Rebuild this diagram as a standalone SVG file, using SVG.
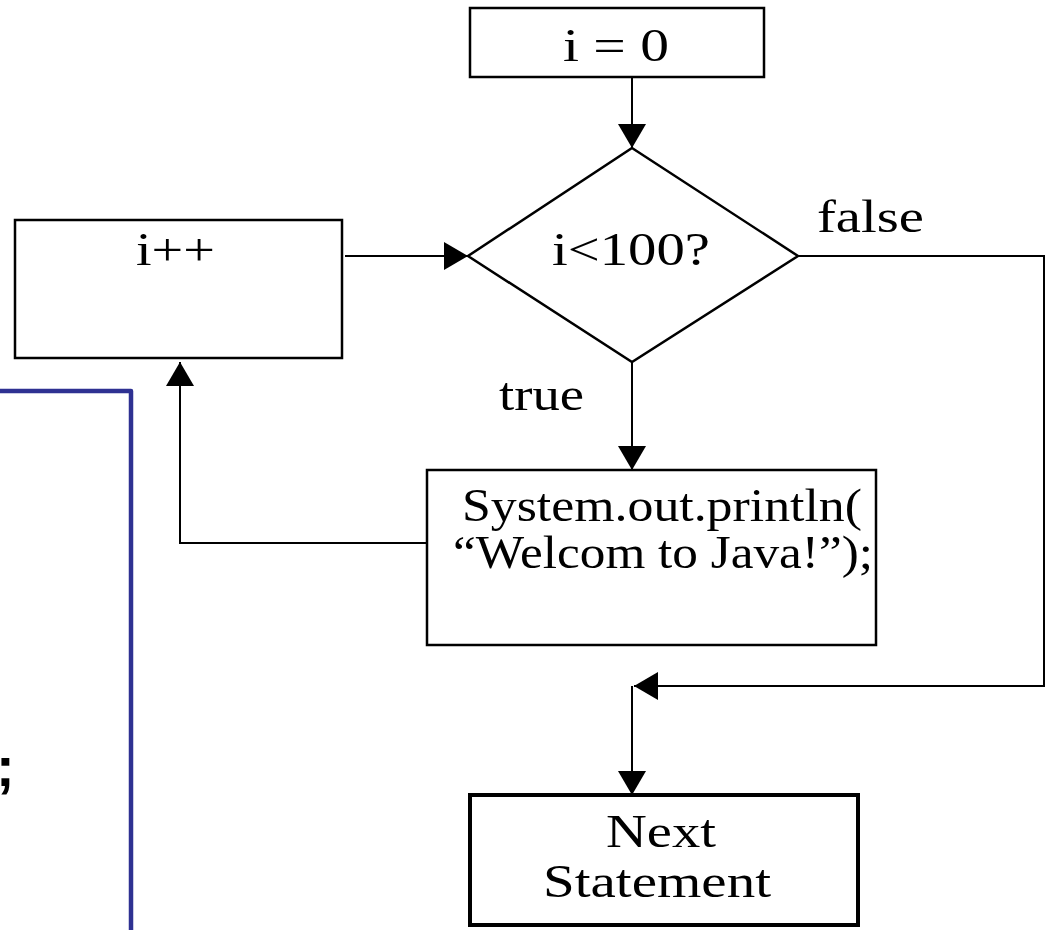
<svg xmlns="http://www.w3.org/2000/svg" width="1047" height="930" viewBox="0 0 1047 930">
<style>
  .box { fill: #ffffff; stroke: #000000; stroke-width: 2.5; }
  .thick { stroke-width: 4; }
  .conn { fill: none; stroke: #000000; stroke-width: 2; }
  .t { font-family: "Liberation Serif", "Times New Roman", serif; font-size: 47px; fill: #000000; }
</style>
<defs>
  <marker id="arr" markerUnits="userSpaceOnUse" markerWidth="24" markerHeight="28" refX="24" refY="14" orient="auto">
    <path d="M0,0 L24,14 L0,28 Z" fill="#000000"/>
  </marker>
</defs>
<rect width="1047" height="930" fill="#ffffff"/>

<g id="connectors">
  <line class="conn" x1="632" y1="77" x2="632" y2="148" marker-end="url(#arr)"/>
  <line class="conn" x1="345" y1="256" x2="468" y2="256" marker-end="url(#arr)"/>
  <line class="conn" x1="632" y1="362" x2="632" y2="470" marker-end="url(#arr)"/>
  <polyline class="conn" points="427,543 180,543 180,362" marker-end="url(#arr)"/>
  <polyline class="conn" points="798,256 1044,256 1044,686 634,686" marker-end="url(#arr)"/>
  <line class="conn" x1="632" y1="686" x2="632" y2="795" marker-end="url(#arr)"/>
</g>

<g id="blue-frame">
  <polyline points="0,391 131,391 131,930" fill="none" stroke="#2E3192" stroke-width="4.5" stroke-linejoin="round"/>
  <text x="-4" y="786" font-family="Liberation Sans, Arial, sans-serif" font-weight="bold" font-size="56" fill="#000000">;</text>
</g>

<g id="init">
  <rect class="box" x="470" y="8" width="294" height="69"/>
  <text class="t" x="563" y="61" font-size="43" textLength="106" lengthAdjust="spacingAndGlyphs">i = 0</text>
</g>

<g id="cond">
  <polygon class="box" points="632,148 798,256 632,362 468,256"/>
  <text class="t" x="552" y="265" textLength="158" lengthAdjust="spacingAndGlyphs">i&lt;100?</text>
</g>

<g id="label-false">
  <text class="t" x="817" y="232" textLength="107" lengthAdjust="spacingAndGlyphs">false</text>
</g>

<g id="label-true">
  <text class="t" x="499" y="410" textLength="85" lengthAdjust="spacingAndGlyphs">true</text>
</g>

<g id="incr">
  <rect class="box" x="15" y="220" width="327" height="138"/>
  <text class="t" x="136" y="265" textLength="79" lengthAdjust="spacingAndGlyphs">i++</text>
</g>

<g id="body">
  <rect class="box" x="427" y="470" width="449" height="175"/>
  <text class="t" x="462" y="521" textLength="400" lengthAdjust="spacingAndGlyphs">System.out.println(</text>
  <text class="t" x="453" y="568" font-size="46" textLength="420" lengthAdjust="spacingAndGlyphs">“Welcom to Java!”);</text>
</g>

<g id="next">
  <rect class="box thick" x="470" y="795" width="388" height="130"/>
  <text class="t" x="606" y="847" font-size="40" textLength="110" lengthAdjust="spacingAndGlyphs">Next</text>
  <text class="t" x="543" y="897" font-size="41" textLength="228" lengthAdjust="spacingAndGlyphs">Statement</text>
</g>
</svg>
